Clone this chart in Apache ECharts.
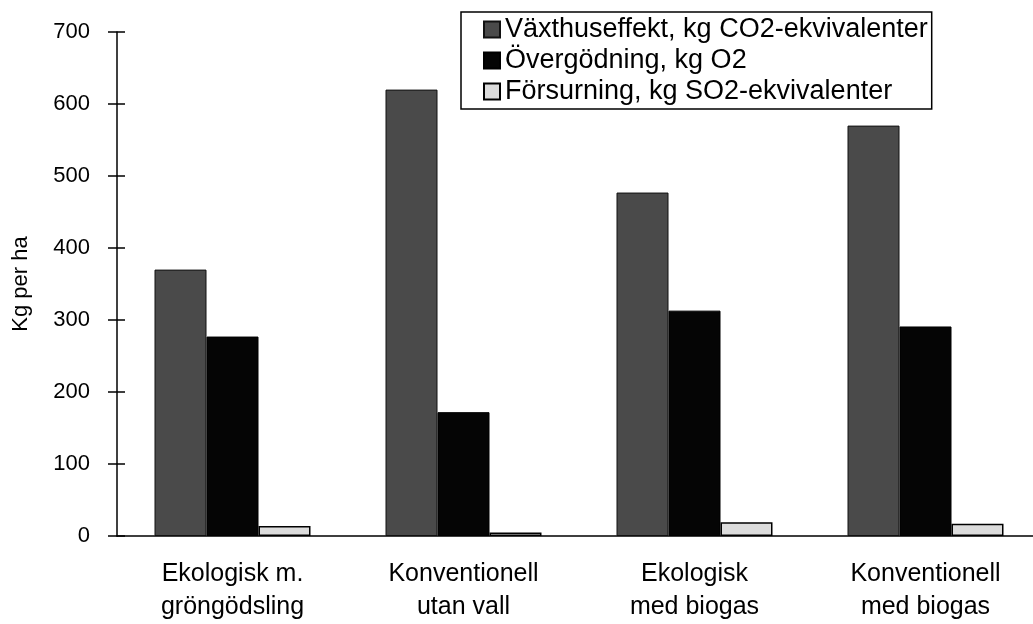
<!DOCTYPE html>
<html>
<head>
<meta charset="utf-8">
<script src="https://cdn.jsdelivr.net/npm/echarts@6/dist/echarts.min.js"></script>
<style>html,body{margin:0;padding:0;background:#fff}#c{width:1033px;height:624px}</style>
</head>
<body>
<div id="c"></div>
<script>
const categories = ['Ekologisk m.\ngröngödsling', 'Konventionell\nutan vall', 'Ekologisk\nmed biogas', 'Konventionell\nmed biogas'];
const seriesNames = ['Växthuseffekt, kg CO2-ekvivalenter', 'Övergödning, kg O2', 'Försurning, kg SO2-ekvivalenter'];
const vaxthus = [370, 620, 477, 570];
const overgodning = [277, 172, 313, 291];
const forsurning = [14, 5, 19, 17];
const yTicks = {min: 0, max: 700, interval: 100};

const FONT = '"Liberation Sans", Arial, Helvetica, sans-serif';
const chart = echarts.init(document.getElementById('c'), null, {renderer: 'canvas'});
const barBase = {type: 'bar', barWidth: 52, barGap: '0%', yAxisIndex: 0};
chart.setOption({
  backgroundColor: '#fff',
  animation: false,
  textStyle: {fontFamily: FONT, color: '#000'},
  grid: {left: 117, top: 32, height: 504, width: 924, containLabel: false, outerBoundsMode: 'none'},
  legend: {
    orient: 'vertical', left: 461, top: 12,
    padding: [4, 4, 4, 22], itemGap: 4, itemWidth: 16, itemHeight: 16,
    borderColor: '#000', borderWidth: 1.5, backgroundColor: '#fff',
    icon: 'rect',
    textStyle: {fontFamily: FONT, fontSize: 27, lineHeight: 27, color: '#000'},
    data: seriesNames
  },
  xAxis: {
    type: 'category', data: categories,
    axisLine: {lineStyle: {color: '#000', width: 1.5}},
    axisTick: {show: false},
    axisLabel: {fontFamily: FONT, fontSize: 25, lineHeight: 33, color: '#000', margin: 22, interval: 0}
  },
  yAxis: [{
    type: 'value', min: yTicks.min, max: yTicks.max, interval: yTicks.interval,
    name: 'Kg per ha', nameLocation: 'middle', nameGap: 85,
    nameTextStyle: {fontFamily: FONT, fontSize: 22, color: '#000'},
    axisLine: {show: true, lineStyle: {color: '#000', width: 1.5}},
    axisTick: {show: true, length: 9, lineStyle: {color: '#000', width: 1.5}},
    axisLabel: {fontFamily: FONT, fontSize: 22, color: '#000', margin: 27},
    splitLine: {show: false}
  }, {
    type: 'value', position: 'left', min: yTicks.min, max: yTicks.max, interval: yTicks.interval,
    axisLine: {show: false},
    axisTick: {show: true, inside: true, length: 8, lineStyle: {color: '#000', width: 1.5}},
    axisLabel: {show: false},
    splitLine: {show: false}
  }],
  series: [
    Object.assign({}, barBase, {name: seriesNames[0], data: vaxthus,
      itemStyle: {color: '#4a4a4a', borderColor: '#111', borderWidth: 1}}),
    Object.assign({}, barBase, {name: seriesNames[1], data: overgodning,
      itemStyle: {color: '#050505', borderColor: '#000', borderWidth: 1}}),
    Object.assign({}, barBase, {name: seriesNames[2], data: forsurning,
      itemStyle: {color: '#dcdcdc', borderColor: '#000', borderWidth: 1.5}})
  ]
});
</script>
</body>
</html>
